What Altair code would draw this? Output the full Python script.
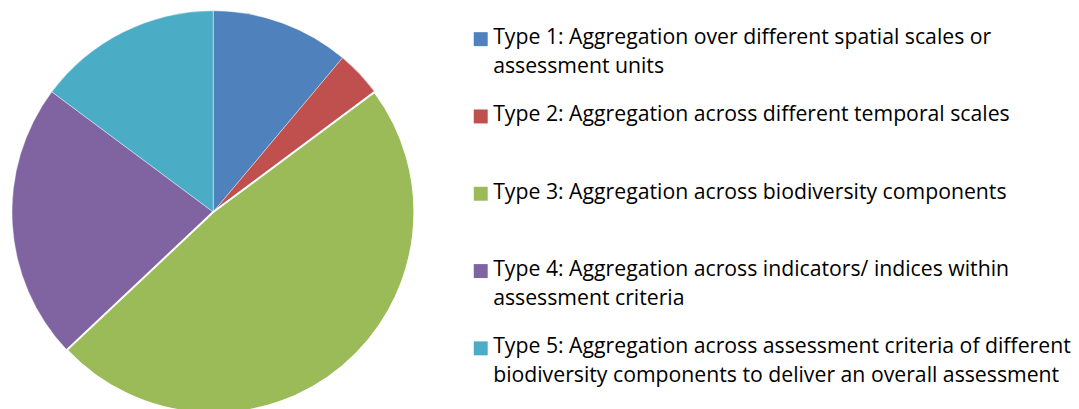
import altair as alt
import pandas as pd

types = ["Type 1", "Type 2", "Type 3", "Type 4", "Type 5"]
counts = [3, 1, 13, 6, 4]
labels = [
    "Type 1: Aggregation over different spatial scales or\nassessment units",
    "Type 2: Aggregation across different temporal scales",
    "Type 3: Aggregation across biodiversity components",
    "Type 4: Aggregation across indicators/ indices within\nassessment criteria",
    "Type 5: Aggregation across assessment criteria of different\nbiodiversity components to deliver an overall assessment",
]
colors = ["#4F81BD", "#C0504D", "#9BBB59", "#8064A2", "#4BACC6"]

df = pd.DataFrame({"type": types, "count": counts, "label": labels, "idx": list(range(len(types)))})

color_scale = alt.Scale(domain=types, range=colors)

base = alt.Chart(df).encode(
    theta=alt.Theta("count:Q", stack=True),
    order=alt.Order("idx:Q"),
)
pie_fill = base.mark_arc(radius=202, stroke="white", strokeWidth=0.4).encode(
    color=alt.Color("type:N", scale=color_scale, legend=None)
)
pie_edge = base.mark_arc(radius=202, fillOpacity=0, stroke="white").encode(
    strokeWidth=alt.condition("datum.type == 'Type 3'", alt.value(2), alt.value(0))
)
pie = alt.layer(pie_fill, pie_edge).properties(width=412, height=408)

yscale = alt.Scale(domain=[-0.393, 4.865], reverse=True)
leg_base = alt.Chart(df).encode(y=alt.Y("idx:Q", scale=yscale, axis=None))
squares = leg_base.mark_square(size=196, opacity=1).encode(
    x=alt.value(12.5),
    color=alt.Color("type:N", scale=color_scale, legend=None),
)
texts = leg_base.mark_text(
    align="left", baseline="top", dy=-12, fontSize=21.3, font="Open Sans",
    lineBreak="\n", lineHeight=29, color="#000000",
).encode(x=alt.value(25), text="label:N")
legend = alt.layer(squares, texts).properties(width=600, height=408)

chart = alt.hconcat(pie, legend, spacing=50).properties(padding=0).configure_view(stroke=None)

chart.save("out.html", embed_options={"renderer": "svg", "actions": False})
